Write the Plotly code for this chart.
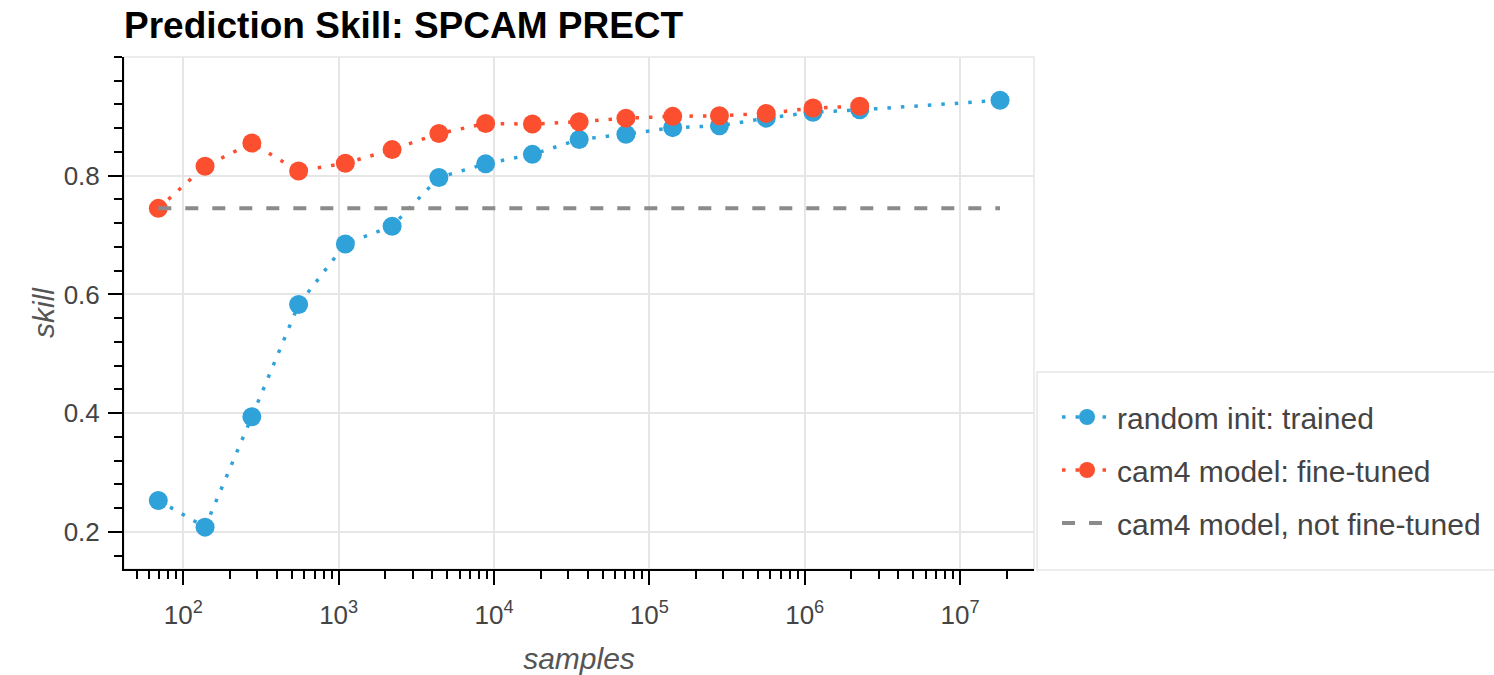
import plotly.graph_objects as go

# ---- data ----
samples = [69, 138, 276, 552, 1104, 2208, 4416, 8832, 17664, 35328, 70656,
           141312, 282624, 565248, 1130496, 2260992]
samples_random = samples + [18087936]
skill_random = [0.253, 0.208, 0.394, 0.583, 0.685, 0.715, 0.797, 0.820, 0.836,
                0.861, 0.870, 0.881, 0.884, 0.897, 0.907, 0.911, 0.927]
skill_finetuned = [0.745, 0.816, 0.855, 0.808, 0.821, 0.844, 0.871, 0.888, 0.887,
                   0.891, 0.897, 0.900, 0.901, 0.905, 0.914, 0.917]
baseline_x = [69, 18087936]
baseline_skill = [0.745, 0.745]

x_major = [1e2, 1e3, 1e4, 1e5, 1e6, 1e7]
x_major_text = ["10<sup>2</sup>", "10<sup>3</sup>", "10<sup>4</sup>",
                "10<sup>5</sup>", "10<sup>6</sup>", "10<sup>7</sup>"]
x_minor = [m * 10 ** e for e in range(1, 8) for m in range(2, 10)]
y_major = [0.2, 0.4, 0.6, 0.8]

BLUE = "#30a2da"
RED = "#fc4f30"
GRAY = "#8b8b8b"
FONT = "Liberation Sans, Arial, Helvetica, sans-serif"

fig = go.Figure()
fig.add_trace(go.Scatter(
    x=samples_random, y=skill_random, mode="lines+markers",
    name="random init: trained", legendgroup="a",
    line=dict(color=BLUE, width=3.5, dash="3.5px,10px"),
    marker=dict(color=BLUE, size=19),
))
fig.add_trace(go.Scatter(
    x=samples, y=skill_finetuned, mode="lines+markers",
    name="cam4 model: fine-tuned", legendgroup="b",
    line=dict(color=RED, width=3.5, dash="3.5px,10px"),
    marker=dict(color=RED, size=19),
))
fig.add_trace(go.Scatter(
    x=baseline_x, y=baseline_skill, mode="lines",
    name="cam4 model, not fine-tuned", legendgroup="c",
    line=dict(color=GRAY, width=4, dash="13px,14px"),
))

fig.update_layout(
    width=1494, height=675,
    margin=dict(l=124, r=460, t=57, b=106, autoexpand=False),
    paper_bgcolor="white", plot_bgcolor="white",
    font=dict(family=FONT, color="#444444"),
    title=dict(text="<b>Prediction Skill: SPCAM PRECT</b>",
               font=dict(family=FONT, size=37, color="black"),
               x=0, xref="paper", xanchor="left",
               y=1 - 25 / 675, yref="container", yanchor="middle"),
    showlegend=True,
    legend=dict(x=1.0253, xanchor="left", y=0.3477, yanchor="top",
                borderwidth=0, bgcolor="rgba(0,0,0,0)",
                font=dict(family=FONT, size=30, color="#444444"),
                tracegroupgap=11, itemwidth=50),
    shapes=[
        dict(type="rect", xref="paper", yref="paper", x0=0, x1=1, y0=0, y1=1,
             line=dict(color="#e6e6e6", width=1.5), layer="below"),
        dict(type="rect", xref="paper", yref="paper", x0=1.0033, x1=1.6, y0=-0.002, y1=0.385,
             line=dict(color="#e6e6e6", width=1.5), fillcolor="white", layer="below"),
    ],
)

fig.update_xaxes(
    type="log", range=[1.618, 7.476],
    tickmode="array", tickvals=x_major, ticktext=x_major_text,
    tickfont=dict(size=26, color="#444444"), ticklabelstandoff=8,
    showgrid=True, gridcolor="#e6e6e6", gridwidth=1.5,
    showline=True, linecolor="black", linewidth=2,
    ticks="outside", ticklen=14, tickwidth=2, tickcolor="black",
    minor=dict(tickmode="array", tickvals=x_minor, ticks="outside",
               ticklen=8, tickwidth=2, tickcolor="black", showgrid=False),
    zeroline=False,
    title=dict(text="<i>samples</i>", font=dict(size=30, color="#555555"), standoff=22),
)
fig.update_yaxes(
    range=[0.1375, 1.0],
    tickmode="array", tickvals=y_major, ticktext=["0.2", "0.4", "0.6", "0.8"],
    tickfont=dict(size=26, color="#444444"), ticklabelstandoff=3,
    showgrid=True, gridcolor="#e6e6e6", gridwidth=1.5,
    showline=True, linecolor="black", linewidth=2,
    ticks="outside", ticklen=14, tickwidth=2, tickcolor="black",
    minor=dict(tickmode="linear", tick0=0, dtick=0.04, ticks="outside",
               ticklen=8, tickwidth=2, tickcolor="black", showgrid=False),
    zeroline=False,
    title=dict(text="<i>skill</i>", font=dict(size=30, color="#555555"), standoff=0),
)

fig.write_html("out.html")
